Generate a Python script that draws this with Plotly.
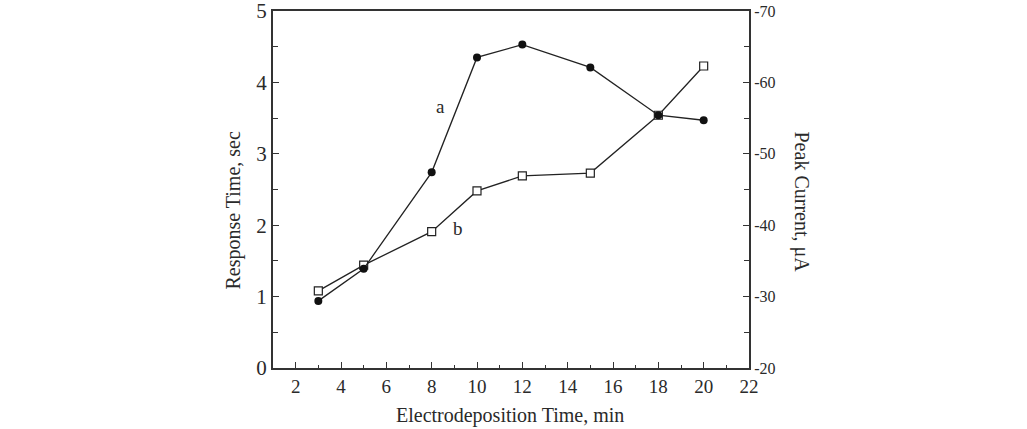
import plotly.graph_objects as go

# Data
time_min = [3, 5, 8, 10, 12, 15, 18, 20]
peak_current_a = [-29.4, -33.9, -47.4, -63.5, -65.3, -62.1, -55.4, -54.7]   # curve a (right axis)
response_time_b = [1.08, 1.44, 1.91, 2.48, 2.69, 2.73, 3.54, 4.23]         # curve b (left axis)

x_ticks = [2, 4, 6, 8, 10, 12, 14, 16, 18, 20, 22]
y1_ticks = [0, 1, 2, 3, 4, 5]
y2_ticks = [-20, -30, -40, -50, -60, -70]
y2_ticktext = ["-20", "-30", "-40", "-50", "-60", "-70"]

FONT = "Liberation Serif, Times New Roman, serif"
AX = "#333333"
TXT = "#2a2a2a"

fig = go.Figure()

fig.add_trace(go.Scatter(
    x=time_min, y=response_time_b, mode="lines+markers", yaxis="y",
    line=dict(color="#222222", width=1.3),
    marker=dict(symbol="square", size=8, color="white", line=dict(color="#222222", width=1.2)),
    showlegend=False))

fig.add_trace(go.Scatter(
    x=time_min, y=peak_current_a, mode="lines+markers", yaxis="y2",
    line=dict(color="#222222", width=1.3),
    marker=dict(symbol="circle", size=8, color="#111111"),
    showlegend=False))

fig.update_layout(
    width=1027, height=429,
    margin=dict(l=273, r=278, t=11, b=61),
    paper_bgcolor="white", plot_bgcolor="white",
    font=dict(family=FONT, color=TXT),
    xaxis=dict(
        range=[1, 22], tickmode="array", tickvals=x_ticks,
        ticks="inside", ticklen=6, tickwidth=1.3, tickcolor=AX,
        minor=dict(dtick=1, tick0=1, ticks="inside", ticklen=3, tickwidth=1.2, tickcolor=AX),
        showline=True, linecolor=AX, linewidth=2, mirror=True,
        showgrid=False, zeroline=False, automargin=False, ticklabeloverflow="allow",
        tickfont=dict(size=19, family=FONT, color=TXT),
    ),
    yaxis=dict(
        range=[0, 5], tickmode="array", tickvals=y1_ticks,
        ticks="inside", ticklen=6, tickwidth=1.3, tickcolor=AX,
        minor=dict(dtick=0.5, ticks="inside", ticklen=5, tickwidth=1.2, tickcolor=AX),
        showline=True, linecolor=AX, linewidth=2,
        showgrid=False, zeroline=False, automargin=False, ticklabeloverflow="allow",
        tickfont=dict(size=21, family=FONT, color=TXT),
    ),
    yaxis2=dict(
        range=[-20, -70], overlaying="y", side="right",
        tickmode="array", tickvals=y2_ticks, ticktext=y2_ticktext,
        ticks="inside", ticklen=6, tickwidth=1.3, tickcolor=AX,
        minor=dict(dtick=5, ticks="inside", ticklen=5, tickwidth=1.2, tickcolor=AX),
        showline=True, linecolor=AX, linewidth=2,
        showgrid=False, zeroline=False, automargin=False, ticklabeloverflow="allow",
        tickfont=dict(size=16, family=FONT, color=TXT),
    ),
    annotations=[
        dict(x=8.4, y=3.66, xref="x", yref="y", text="a", showarrow=False,
             font=dict(size=19, family=FONT, color=TXT)),
        dict(x=9.17, y=1.96, xref="x", yref="y", text="b", showarrow=False,
             font=dict(size=19, family=FONT, color=TXT)),
        dict(x=0, y=0.5, xref="paper", yref="paper", xanchor="center", yanchor="middle",
             xshift=-40, yshift=-21, text="Response Time, sec", textangle=-90, showarrow=False,
             font=dict(size=20, family=FONT, color=TXT)),
        dict(x=1, y=0.5, xref="paper", yref="paper", xanchor="center", yanchor="middle",
             xshift=52, yshift=-12, text="Peak Current, μA", textangle=90, showarrow=False,
             font=dict(size=20, family=FONT, color=TXT)),
        dict(x=0.5, y=0, xref="paper", yref="paper", xanchor="center", yanchor="middle",
             xshift=-1, yshift=-47, text="Electrodeposition Time, min", showarrow=False,
             font=dict(size=20, family=FONT, color=TXT)),
    ],
)

fig.write_html("out.html")
